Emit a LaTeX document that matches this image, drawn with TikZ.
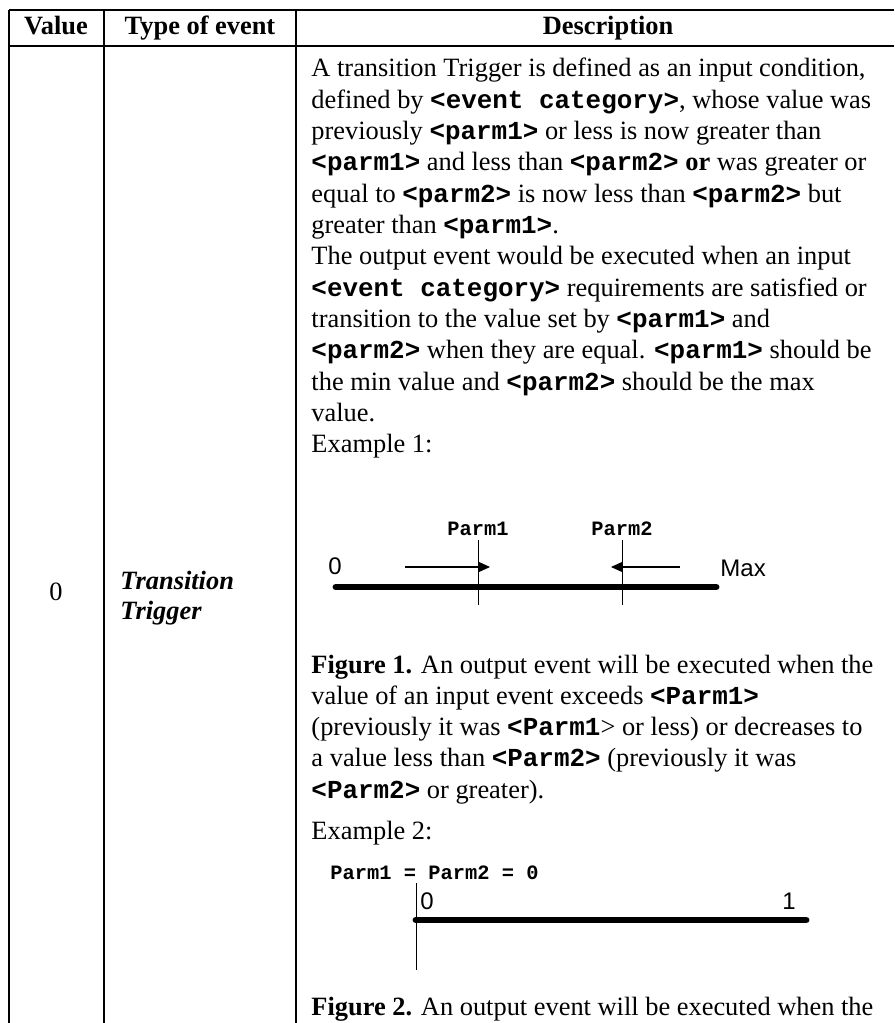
\documentclass[tikz,border=0pt]{standalone}
\usepackage{fontspec}
\setmainfont{Liberation Serif}
\setsansfont{Liberation Sans}
\setmonofont{Liberation Mono}
\usetikzlibrary{arrows.meta,positioning}
\newcommand{\cd}[1]{{\fontsize{10.8}{13.04}\selectfont\ttfamily\bfseries #1}}
\newcommand{\smallcd}{\fontsize{8.5}{10}\selectfont\ttfamily\bfseries}
\newcommand{\bodyfont}{\fontsize{11}{13.04}\selectfont}

\begin{document}
\begin{tikzpicture}[x=0.4167pt,y=-0.4167pt,
  rule/.style={line width=1.05pt},
  thin/.style={line width=0.42pt},
  bar/.style={line width=2.9pt,line cap=round},
  pointer/.style={thin,-{Triangle[length=4.5pt,width=4pt]}},
  line/.style={anchor=base west,inner sep=0pt,font=\bodyfont},
  head/.style={anchor=base,inner sep=0pt,font=\bodyfont\bfseries},
  axis/.style={anchor=base west,inner sep=0pt,font=\sffamily\fontsize{10}{12}\selectfont}]
\useasboundingbox (0,0) rectangle (894,1023);
% table rules
\draw [rule] (9,10) -- (894,10);
\draw [rule] (9,46) -- (894,46);
\draw [rule] (9,10) -- (9,1023);
\draw [rule] (104,10) -- (104,1023);
\draw [rule] (296,10) -- (296,1023);
% header
\node [head] (hval) at (56,35) {Value};
\node [head] (htype) at (200,35) {Type of event};
\node [head] (hdesc) at (608,35) {Description};
% first two columns
\node [head,font=\bodyfont] (val) at (56,600) {0};
\node [line,font=\bodyfont\bfseries\itshape] (type1) at (120,589) {Transition};
\node [line,font=\bodyfont\bfseries\itshape] (type2) at (120,619) {Trigger};
% description text
\foreach \t [count=\i] in {
  {A transition Trigger is defined as an input condition,},
  {defined by \cd{<event category>}, whose value was},
  {previously \cd{<parm1>} or less is now greater than},
  {\cd{<parm1>} and less than \cd{<parm2>} \textbf{or} was greater or},
  {equal to \cd{<parm2>} is now less than \cd{<parm2>} but},
  {greater than \cd{<parm1>}.},
  {The output event would be executed when an input},
  {\cd{<event category>} requirements are satisfied or},
  {transition to the value set by \cd{<parm1>} and},
  {\cd{<parm2>} when they are equal. \cd{<parm1>} should be},
  {the min value and \cd{<parm2>} should be the max},
  {value.},
  {Example 1:}}
  \node [line] (desc\i) at (311,{77+31.33*(\i-1)}) {\t};
% example 1
\node [anchor=base,inner sep=0pt,font=\smallcd] (p1lab) at (478,535) {Parm1};
\node [anchor=base,inner sep=0pt,font=\smallcd] (p2lab) at (622,535) {Parm2};
\coordinate (p1top) at (478,540);
\coordinate (p1bot) at (478,605);
\coordinate (p2top) at (622,540);
\coordinate (p2bot) at (622,605);
\draw [thin] (p1top) -- (p1bot);
\draw [thin] (p2top) -- (p2bot);
\coordinate (lo) at (336,587);
\coordinate (hi) at (716,587);
\draw [bar] (lo) -- (hi);
\node [axis] (zero1) at (328,574) {0};
\node [axis] (max) at (720,576) {Max};
\coordinate (a1) at (405,567);
\coordinate (a1tip) at (490,567);
\coordinate (a2) at (680,567);
\coordinate (a2tip) at (611,567);
\draw [pointer] (a1) -- (a1tip);
\draw [pointer] (a2) -- (a2tip);
% figure 1 caption
\foreach \t [count=\i] in {
  {\textbf{Figure 1.} An output event will be executed when the},
  {value of an input event exceeds \cd{<Parm1>}},
  {(previously it was \cd{<Parm1}> or less) or decreases to},
  {a value less than \cd{<Parm2>} (previously it was},
  {\cd{<Parm2>} or greater).}}
  \node [line] (cap\i) at (311,{673+31.33*(\i-1)}) {\t};
\node [line] (ex2) at (311,839) {Example 2:};
% example 2
\node [anchor=base west,inner sep=0pt,font=\smallcd] (eqlab) at (330,879) {Parm1 = Parm2 = 0};
\coordinate (etop) at (416,883);
\coordinate (ebot) at (416,970);
\draw [thin] (etop) -- (ebot);
\coordinate (lo2) at (416,920);
\coordinate (hi2) at (806,920);
\draw [bar] (lo2) -- (hi2);
\node [axis] (zero2) at (420,909) {0};
\node [axis] (one2) at (782,909) {1};
\node [line] (cap2) at (311,1015) {\textbf{Figure 2.} An output event will be executed when the};
\end{tikzpicture}
\end{document}
